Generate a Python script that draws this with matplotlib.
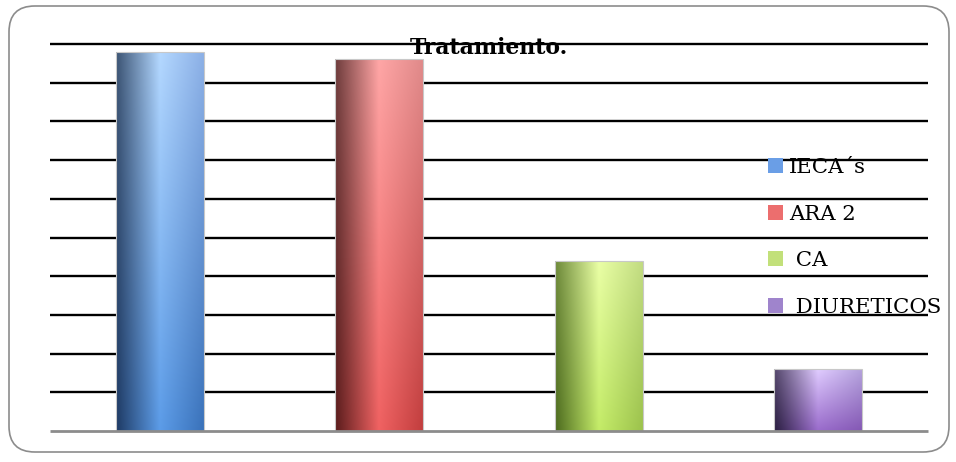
import numpy as np
import matplotlib.pyplot as plt
from matplotlib.colors import to_rgb
from matplotlib.patches import FancyBboxPatch, Patch

# --- data -------------------------------------------------------------------
categories = ["IECA\u00b4s", "ARA 2", " CA", " DIURETICOS"]
values = [49, 48, 22, 8]
y_ticks = list(range(0, 55, 5))
title = "Tratamiento."

# gradient stops per bar: (top-left, top-mid, top-right, bottom-left, bottom-mid, bottom-right)
shades = [
    ("#3c5474", "#b4d8ff", "#8cb0e6", "#1e3a64", "#5c9ce8", "#3a72ba"),
    ("#6e3c3c", "#ffa6a6", "#e08a8a", "#5a1c1c", "#f06262", "#c23e3e"),
    ("#6e8a3a", "#eaffa6", "#c2dc82", "#4c6a1e", "#c4ec68", "#9cc24c"),
    ("#54466c", "#e0ccff", "#b4a2dc", "#2a1e40", "#9a6ccc", "#8458b4"),
]
legend_colors = ["#6a9ee6", "#ec6e6e", "#c2e07a", "#9f84cc"]

plt.rcParams["font.family"] = ["DejaVu Serif"]

fig = plt.figure(figsize=(9.56, 4.62), dpi=100)

# rounded frame round the whole chart (behind everything)
frame = FancyBboxPatch((9 / 956, 10 / 462), 940 / 956, 446 / 462,
                       boxstyle="round,pad=0,rounding_size=0.027",
                       transform=fig.transFigure, fc="white", ec="#8c8c8c",
                       lw=1.2, mutation_aspect=956 / 462, zorder=-10)
fig.patches.append(frame)

ax = fig.add_axes([50 / 956, 1 - 431 / 462, 878 / 956, (431 - 44) / 462])
ax.set_zorder(2)
ax.set_facecolor("none")
x = np.arange(len(categories))
bars = ax.bar(x, values, width=0.4, color="none", edgecolor="none", zorder=3)


def gradient(stops, nx=120, ny=60):
    tl, tm, tr, bl, bm, br = [np.array(to_rgb(c)) for c in stops]
    u = np.linspace(0, 1, nx)
    pos = [0, 0.5, 1]
    top = np.stack([np.interp(u, pos, [tl[k], tm[k], tr[k]]) for k in range(3)], -1)
    bot = np.stack([np.interp(u, pos, [bl[k], bm[k], br[k]]) for k in range(3)], -1)
    v = np.linspace(0, 1, ny)[:, None, None]
    return top * (1 - v) + bot * v


for rect, stops in zip(bars, shades):
    x0, w, h = rect.get_x(), rect.get_width(), rect.get_height()
    im = ax.imshow(gradient(stops), extent=(x0, x0 + w, 0, h), aspect="auto",
                   origin="upper", zorder=3, interpolation="bilinear")
    im.set_clip_path(rect)
    ax.add_patch(plt.Rectangle((x0, 0), w, h, fc="none", ec="#c8c8c8",
                               lw=0.8, zorder=4))

for yv in y_ticks[1:]:
    ax.axhline(yv, color="black", lw=1.7, zorder=1, clip_on=False,
               solid_capstyle="butt")
ax.axhline(0, color="#8c8c8c", lw=2, zorder=5, clip_on=False,
           solid_capstyle="butt")

ax.set_xlim(-0.5, len(categories) - 0.5)
ax.set_ylim(0, max(y_ticks))
ax.set_xticks([])
ax.set_yticks([])
for s in ax.spines.values():
    s.set_visible(False)

ax.text(0.5, 0.99, title, transform=ax.transAxes, ha="center", va="center",
        fontsize=15.8, fontweight="bold", zorder=6)

handles = [Patch(fc=c, ec="none") for c in legend_colors]
leg = fig.legend(handles, categories, loc="upper left",
                 bbox_to_anchor=(768 / 956, 1 - 158 / 462), frameon=False,
                 fontsize=15.3, handlelength=0.7, handleheight=0.7,
                 handletextpad=0.3, labelspacing=1.3, borderpad=0,
                 borderaxespad=0)
leg.set_zorder(10)

fig.savefig("out.png", dpi=100)
